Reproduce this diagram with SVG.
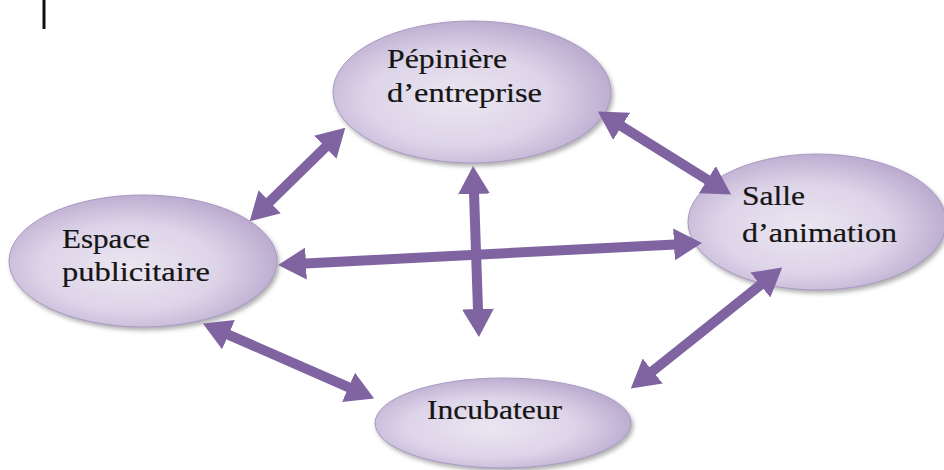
<svg xmlns="http://www.w3.org/2000/svg" width="944" height="470" viewBox="0 0 944 470">
  <defs>
    <radialGradient id="fillG" cx="45%" cy="55%" r="60%">
      <stop offset="0" stop-color="#ebe6f2"/>
      <stop offset="0.55" stop-color="#ddd4e8"/>
      <stop offset="1" stop-color="#b6a5cc"/>
    </radialGradient>
    <filter id="shadow" x="-10%" y="-10%" width="120%" height="130%">
      <feDropShadow dx="2" dy="3" stdDeviation="2" flood-color="#6f6f6f" flood-opacity="0.55"/>
    </filter>
    <marker id="head" markerUnits="userSpaceOnUse" viewBox="0 0 28 32" markerWidth="28" markerHeight="32" refX="1" refY="16" orient="auto-start-reverse">
      <path d="M0,0 L28,16 L0,32 Z" fill="#8064a2"/>
    </marker>
  </defs>
  <style>
    .node ellipse { fill: url(#fillG); stroke: #a999c2; stroke-width: 1; filter: url(#shadow); }
    .node text { font-family: "Liberation Serif", "Times New Roman", serif; font-size: 27px; fill: #151515; stroke: #151515; stroke-width: 0.2; }
    .conn line { stroke: #8064a2; stroke-width: 10; stroke-linecap: butt; marker-start: url(#head); marker-end: url(#head); }
  </style>
  <rect width="944" height="470" fill="#ffffff"/>
  <line x1="44" y1="0" x2="44" y2="29" stroke="#111" stroke-width="3"/>

  <g id="pepiniere" class="node">
    <ellipse cx="472" cy="92" rx="139" ry="71"/>
    <text x="387" y="68" textLength="120" lengthAdjust="spacingAndGlyphs">Pépinière</text>
    <text x="387" y="102" textLength="155" lengthAdjust="spacingAndGlyphs">d’entreprise</text>
  </g>
  <g id="espace" class="node">
    <ellipse cx="143" cy="261" rx="134" ry="66"/>
    <text x="62" y="248" textLength="88" lengthAdjust="spacingAndGlyphs">Espace</text>
    <text x="62" y="281" textLength="148" lengthAdjust="spacingAndGlyphs">publicitaire</text>
  </g>
  <g id="salle" class="node">
    <ellipse cx="817" cy="222" rx="129" ry="68"/>
    <text x="742" y="205" textLength="63" lengthAdjust="spacingAndGlyphs">Salle</text>
    <text x="742" y="242" textLength="155" lengthAdjust="spacingAndGlyphs">d’animation</text>
  </g>
  <g id="incubateur" class="node">
    <ellipse cx="503" cy="423" rx="128" ry="45"/>
    <text x="427" y="419" textLength="135" lengthAdjust="spacingAndGlyphs">Incubateur</text>
  </g>

  <g id="connectors" class="conn">
    <line x1="326.0" y1="146.6" x2="269.0" y2="202.4"/>
    <line x1="474.0" y1="193.0" x2="478.0" y2="310.0"/>
    <line x1="305.0" y1="263.6" x2="675.0" y2="244.4"/>
    <line x1="620.8" y1="125.8" x2="708.2" y2="180.2"/>
    <line x1="227.6" y1="334.3" x2="349.4" y2="387.7"/>
    <line x1="761.1" y1="284.4" x2="651.9" y2="371.6"/>
  </g>
</svg>
